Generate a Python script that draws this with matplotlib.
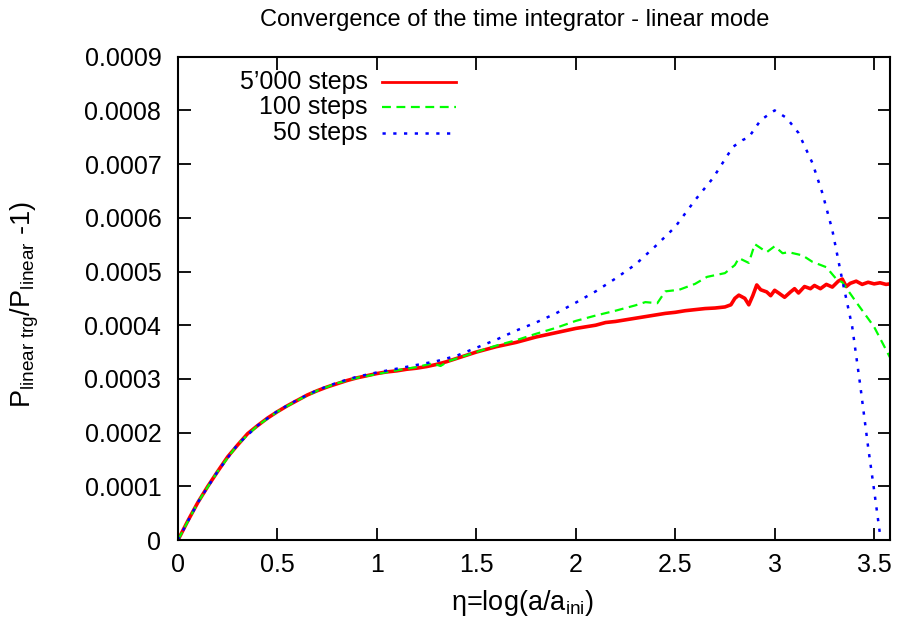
import matplotlib
matplotlib.use("Agg")
import matplotlib.pyplot as plt
from matplotlib.ticker import FuncFormatter

plt.rcParams['font.family'] = ['Liberation Sans', 'DejaVu Sans']
plt.rcParams['mathtext.fontset'] = 'custom'
plt.rcParams['mathtext.rm'] = 'Liberation Sans'
plt.rcParams['mathtext.it'] = 'Liberation Sans'

# 5'000 steps (noisy reference run)
x_5000 = [0.0, 0.05, 0.1, 0.15, 0.2, 0.25, 0.3, 0.35, 0.4, 0.45, 0.5, 0.55, 0.6, 0.65,
          0.7, 0.75, 0.8, 0.85, 0.9, 0.95, 1.0, 1.05, 1.1, 1.15, 1.2, 1.25, 1.3, 1.35,
          1.4, 1.45, 1.5, 1.55, 1.6, 1.65, 1.7, 1.75, 1.8, 1.85, 1.9, 1.95, 2.0, 2.05,
          2.1, 2.15, 2.2, 2.25, 2.3, 2.35, 2.4, 2.45, 2.5, 2.55, 2.6, 2.65, 2.7, 2.75,
          2.78, 2.8, 2.82, 2.85, 2.87, 2.89, 2.91, 2.93, 2.96, 2.98, 3.0, 3.02, 3.05,
          3.08, 3.1, 3.12, 3.15, 3.18, 3.2, 3.23, 3.26, 3.29, 3.32, 3.34, 3.36, 3.38,
          3.41, 3.44, 3.47, 3.5, 3.53, 3.56, 3.58]
y_5000 = [0.0, 0.000036, 0.00007, 0.0001, 0.000128, 0.000155, 0.000177, 0.000198,
          0.000213, 0.000227, 0.000239, 0.00025, 0.00026, 0.00027, 0.000278, 0.000285,
          0.000291, 0.000297, 0.000302, 0.000306, 0.00031, 0.000313, 0.000315, 0.000318,
          0.00032, 0.000323, 0.000327, 0.000332, 0.000338, 0.000344, 0.00035, 0.000355,
          0.00036, 0.000364, 0.000368, 0.000373, 0.000378, 0.000382, 0.000386, 0.00039,
          0.000394, 0.000397, 0.0004, 0.000405, 0.000407, 0.00041, 0.000413, 0.000416,
          0.000419, 0.000422, 0.000424, 0.000427, 0.000429, 0.000431, 0.000432, 0.000434,
          0.000438, 0.00045, 0.000456, 0.00045, 0.000438, 0.000455, 0.000475, 0.000466,
          0.000462, 0.000455, 0.000465, 0.00046, 0.000452, 0.000462, 0.000468, 0.00046,
          0.000472, 0.000468, 0.000474, 0.000468, 0.000476, 0.000471, 0.000482, 0.000486,
          0.000472, 0.000478, 0.000482, 0.000476, 0.00048, 0.000477, 0.000479, 0.000476,
          0.000477]

# 100 steps
x_100 = [0.0, 0.1, 0.2, 0.3, 0.4, 0.5, 0.6, 0.7, 0.8, 0.9, 1.0, 1.1, 1.2, 1.28, 1.32,
         1.36, 1.4, 1.5, 1.6, 1.7, 1.8, 1.9, 2.0, 2.1, 2.2, 2.3, 2.35, 2.41, 2.45, 2.52,
         2.6, 2.66, 2.75, 2.8, 2.82, 2.87, 2.9, 2.96, 3.0, 3.04, 3.07, 3.14, 3.19, 3.26,
         3.31, 3.34, 3.41, 3.5, 3.58]
y_100 = [0.0, 0.00007, 0.000128, 0.000178, 0.000213, 0.000239, 0.00026, 0.000278,
         0.000292, 0.000302, 0.000309, 0.000316, 0.000322, 0.000329, 0.000324, 0.000333,
         0.000338, 0.00035, 0.000362, 0.000372, 0.000384, 0.000395, 0.000408, 0.000418,
         0.000427, 0.000437, 0.000443, 0.000441, 0.000463, 0.000466, 0.000477, 0.00049,
         0.000497, 0.000512, 0.000525, 0.000516, 0.000551, 0.000536, 0.000547, 0.000534,
         0.000536, 0.00053, 0.000518, 0.000508, 0.000486, 0.00048, 0.000443, 0.000397,
         0.00034]

# 50 steps
x_50 = [0.0, 0.1, 0.2, 0.3, 0.4, 0.5, 0.6, 0.7, 0.8, 0.9, 1.0, 1.1, 1.2, 1.3, 1.4, 1.5,
        1.6, 1.7, 1.8, 1.9, 2.0, 2.1, 2.2, 2.3, 2.4, 2.5, 2.6, 2.69, 2.79, 2.84, 2.87,
        2.93, 3.0, 3.06, 3.12, 3.19, 3.24, 3.29, 3.34, 3.39, 3.43, 3.47, 3.5, 3.53, 3.55]
y_50 = [0.0, 0.00007, 0.000128, 0.000178, 0.000213, 0.00024, 0.000261, 0.000279,
        0.000293, 0.000304, 0.000312, 0.000319, 0.000326, 0.000333, 0.000343, 0.000358,
        0.000373, 0.00039, 0.000405, 0.000422, 0.000442, 0.000463, 0.000487, 0.000513,
        0.000547, 0.000583, 0.000633, 0.000674, 0.000732, 0.000745, 0.00075, 0.000782,
        0.0008, 0.000786, 0.000758, 0.000702, 0.000646, 0.000577, 0.000484, 0.000397,
        0.000289, 0.000173, 0.000093, 0.00001, -0.00004]

labels = ["5\u2019000 steps", "100 steps", "50 steps"]
colors = ['#ff0000', '#00ff00', '#0000ff']
yticks = [0, 0.0001, 0.0002, 0.0003, 0.0004, 0.0005, 0.0006, 0.0007, 0.0008, 0.0009]
xticks = [0, 0.5, 1, 1.5, 2, 2.5, 3, 3.5]

fs = 18
fig = plt.figure(figsize=(8.98, 6.19), dpi=100)
ax = fig.add_axes([0.1982, 0.1276, 0.7929, 0.7808])

styles = [dict(lw=2.6), dict(lw=1.6, dashes=(4, 2.5)), dict(lw=1.8, dashes=(1.3, 3))]
ax.plot(x_5000, y_5000, color=colors[0], **styles[0])
ax.plot(x_100, y_100, color=colors[1], **styles[1])
ax.plot(x_50, y_50, color=colors[2], **styles[2])

ax.set_xlim(0, 3.58)
ax.set_ylim(0, 0.0009)
ax.set_xticks(xticks)
ax.set_yticks(yticks)
ax.xaxis.set_major_formatter(FuncFormatter(lambda v, p: f"{v:g}"))
ax.yaxis.set_major_formatter(FuncFormatter(lambda v, p: "0" if v == 0 else f"{v:.4f}"))
ax.tick_params(direction='in', length=9, width=1.3, top=True, right=True, labelsize=fs)
ax.tick_params(axis='y', pad=12)
ax.tick_params(axis='x', pad=9)
for s in ax.spines.values():
    s.set_linewidth(1.5)

# legend drawn gnuplot style: text right aligned, sample on the right
leg_styles = [dict(lw=2.0), styles[1], styles[2]]
for i in range(3):
    yy = 1 - (25 + 25.5 * i) / 483.3
    ax.plot([0.2865, 0.3904], [yy, yy], transform=ax.transAxes, color=colors[i], **leg_styles[i])
    ax.text(0.2663, yy, labels[i], transform=ax.transAxes, ha='right', va='center', fontsize=fs)

fig.text(515 / 898, 1 - 20 / 619, "Convergence of the time integrator - linear mode",
         ha='center', va='center', fontsize=17)
fig.text(523 / 898, 1 - 603 / 619, r"η=log(a/a$_\mathrm{ini}$)", ha='center', va='center',
         fontsize=19.5)
fig.text(25 / 898, 1 - 304 / 619, r"P$_\mathrm{linear\ trg}$/P$_\mathrm{linear}$ -1)",
         ha='center', va='center', rotation=90, fontsize=19.5)

fig.savefig("out.png", dpi=100)
